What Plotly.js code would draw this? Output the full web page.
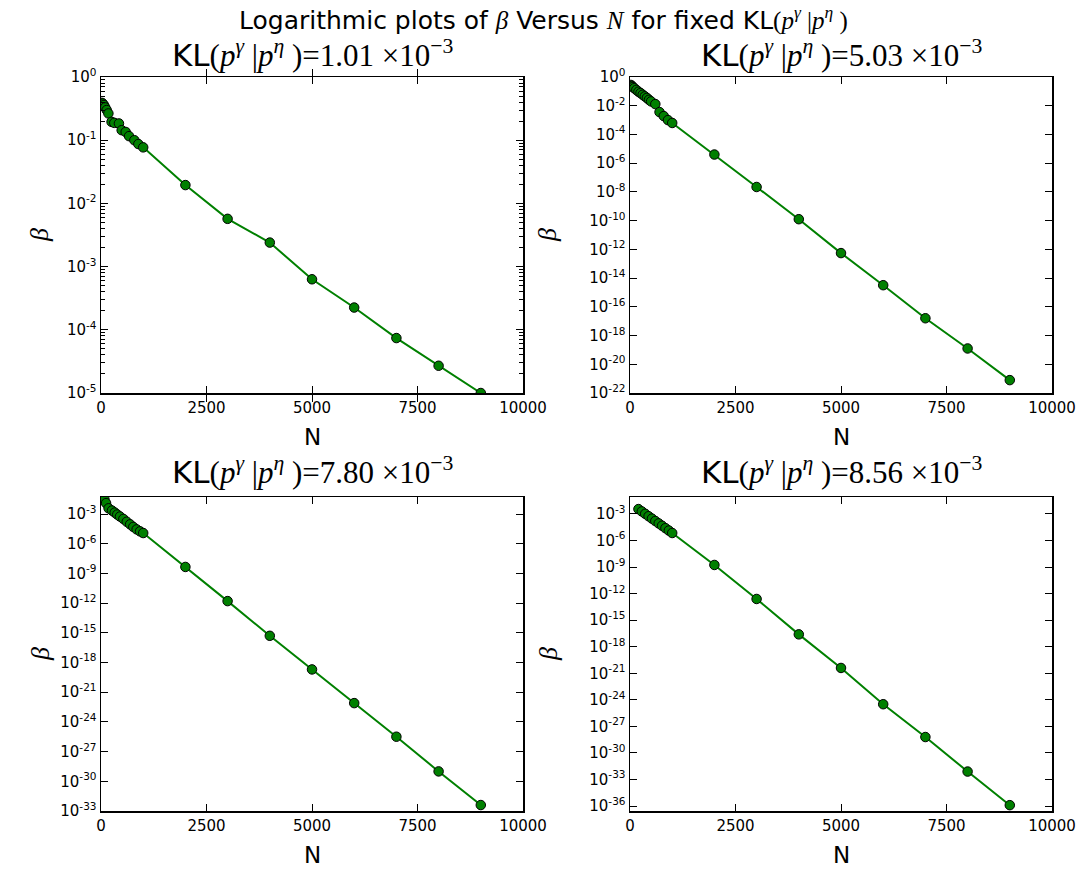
<!DOCTYPE html>
<html>
<head>
<meta charset="utf-8">
<script src="https://cdn.plot.ly/plotly-3.0.1.min.js"></script>
<style>html,body{margin:0;padding:0;background:#fff;}#chart{width:1086px;height:873px;}</style>
</head>
<body>
<div id="chart"></div>
<script>
// ---- data ----
const N1 = [20, 40, 70, 100, 135, 175, 250, 315, 425, 490, 585, 665, 790, 885, 1000, 2000, 3000, 4000, 5000, 6000, 7000, 8000, 9000];
const beta1 = [0.39, 0.38, 0.36, 0.33, 0.30, 0.265, 0.195, 0.188, 0.184, 0.144, 0.135, 0.116, 0.10, 0.087, 0.077, 0.0195, 0.0057, 0.0024, 6.3e-4, 2.25e-4, 7.4e-5, 2.7e-5, 1.0e-5];

const N2 = [20, 40, 70, 100, 150, 200, 250, 300, 350, 400, 450, 500, 600, 700, 800, 900, 1000, 2000, 3000, 4000, 5000, 6000, 7000, 8000, 9000];
const beta2 = [0.28, 0.24, 0.2, 0.166, 0.126, 0.095, 0.076, 0.058, 0.045, 0.035, 0.026, 0.02, 0.013, 3.6e-3, 1.9e-3, 1.0e-3, 6.3e-4, 4.0e-6, 2.2e-8, 1.26e-10, 5.5e-13, 3.2e-15, 1.6e-17, 1.26e-19, 7.9e-22];

const N3 = [40, 80, 120, 180, 260, 325, 385, 450, 530, 610, 690, 765, 845, 925, 1000, 2000, 3000, 4000, 5000, 6000, 7000, 8000, 9000];
const beta3 = [0.063, 0.0316, 0.0126, 3.8e-3, 2.24e-3, 1.41e-3, 8.9e-4, 5.6e-4, 3.2e-4, 1.66e-4, 9.1e-5, 5.0e-5, 2.8e-5, 1.78e-5, 1.2e-5, 4.5e-9, 1.6e-12, 5e-16, 2e-19, 7.9e-23, 3.2e-26, 1e-29, 4e-33];

const N4 = [200, 280, 360, 440, 520, 600, 680, 760, 840, 920, 1000, 2000, 3000, 4000, 5000, 6000, 7000, 8000, 9000];
const beta4 = [3.6e-3, 1.95e-3, 1.05e-3, 5.6e-4, 3.0e-4, 1.62e-4, 8.7e-5, 4.7e-5, 2.5e-5, 1.35e-5, 7.1e-6, 1.74e-9, 2.5e-13, 2.5e-17, 4e-21, 3.2e-25, 6.3e-29, 7.9e-33, 1.26e-36];

const klValues = ["1.01", "5.03", "7.80", "8.56"];
const xTicks = [0, 2500, 5000, 7500, 10000];
const yExp1 = [0, -1, -2, -3, -4, -5];
const yExp2 = [0, -2, -4, -6, -8, -10, -12, -14, -16, -18, -20, -22];
const yExp3 = [-3, -6, -9, -12, -15, -18, -21, -24, -27, -30, -33];
const yExp4 = [-3, -6, -9, -12, -15, -18, -21, -24, -27, -30, -33, -36];
const minorMult = [2, 3, 4, 5, 6, 7, 8, 9];

// ---- styling ----
const serif = "Liberation Serif, DejaVu Serif, serif";
const sans = "DejaVu Sans, sans-serif";
const green = "#008000";

const series = [[N1, beta1], [N2, beta2], [N3, beta3], [N4, beta4]];
const traces = series.map((s, i) => ({
  x: s[0], y: s[1],
  type: "scatter", mode: "lines+markers",
  xaxis: i === 0 ? "x" : "x" + (i + 1),
  yaxis: i === 0 ? "y" : "y" + (i + 1),
  line: {color: green, width: 2},
  marker: {color: green, size: 9.5, line: {color: "#000", width: 1}},
  cliponaxis: true,
  showlegend: false
}));
// invisible trace to carry the minor-tick overlay axis of the first panel
traces.push({x: [N1[0]], y: [beta1[0]], type: "scatter", mode: "markers", xaxis: "x", yaxis: "y5",
  marker: {opacity: 0}, hoverinfo: "skip", showlegend: false});

function xa(domain, anchor) {
  return {
    domain: domain, anchor: anchor, range: [0, 10000],
    tickvals: xTicks, ticktext: xTicks.map(String),
    ticks: "inside", ticklen: 7, tickwidth: 1, tickcolor: "#000",
    showline: true, linecolor: "#000", linewidth: 1.5, mirror: "allticks",
    showgrid: false, zeroline: false,
    tickfont: {family: sans, size: 15, color: "#000"}
  };
}
function ya(domain, anchor, range, exps) {
  return {
    domain: domain, anchor: anchor, type: "log", range: range,
    tickvals: exps.map(e => Math.pow(10, e)),
    ticktext: exps.map(e => "10<sup>" + e + "</sup>"),
    ticks: "inside", ticklen: 7, tickwidth: 1, tickcolor: "#000",
    showline: true, linecolor: "#000", linewidth: 1.5, mirror: "allticks",
    showgrid: false, zeroline: false,
    tickfont: {family: sans, size: 15, color: "#000"}
  };
}

const xL = [101/1086, 523/1086], xR = [630/1086, 1052/1086];
const yT = [1 - 393/873, 1 - 77/873], yB = [1 - 811/873, 1 - 497/873];

const minorVals = [];
yExp1.forEach(e => minorMult.forEach(m => { const v = m * Math.pow(10, e); if (v < 1) minorVals.push(v); }));

function klTitle(v) {
  return "KL<span style=\"font-family:" + serif + "\">(<i>p</i><sup><i>γ</i></sup> |<i>p</i><sup><i>η</i></sup> )=" + v + " ×10<sup>−3</sup></span>";
}

const annotations = [];
annotations.push({
  text: "Logarithmic plots of <span style=\"font-family:" + serif + "\"><i>β</i></span> Versus <span style=\"font-family:" + serif + "\"><i>N</i></span> for fixed KL<span style=\"font-family:" + serif + "\">(<i>p</i><sup><i>γ</i></sup> |<i>p</i><sup><i>η</i></sup> )</span>",
  x: 543/1086, y: 1 - 18/873, xref: "paper", yref: "paper", showarrow: false,
  xanchor: "center", yanchor: "middle", font: {family: sans, size: 25, color: "#000"}
});
const centers = [[312, 53, 437, 40, 235], [841, 53, 437, 548, 235], [312, 470, 855, 40, 654], [841, 470, 855, 548, 654]];
centers.forEach((c, i) => {
  annotations.push({text: klTitle(klValues[i]), x: c[0]/1086, y: 1 - c[1]/873, xref: "paper", yref: "paper",
    showarrow: false, xanchor: "center", yanchor: "middle", font: {family: sans, size: 31, color: "#000"}});
  annotations.push({text: "N", x: c[0]/1086, y: 1 - c[2]/873, xref: "paper", yref: "paper",
    showarrow: false, xanchor: "center", yanchor: "middle", font: {family: sans, size: 23, color: "#000"}});
  annotations.push({text: "<i>β</i>", x: c[3]/1086, y: 1 - c[4]/873, xref: "paper", yref: "paper", textangle: -90,
    showarrow: false, xanchor: "center", yanchor: "middle", font: {family: serif, size: 26, color: "#000"}});
});

const layout = {
  width: 1086, height: 873,
  margin: {l: 0, r: 0, t: 0, b: 0},
  paper_bgcolor: "#fff", plot_bgcolor: "#fff",
  showlegend: false,
  xaxis: xa(xL, "y"), yaxis: ya(yT, "x", [-5, 0], yExp1),
  xaxis2: xa(xR, "y2"), yaxis2: ya(yT, "x2", [-22, 0], yExp2),
  xaxis3: xa(xL, "y3"), yaxis3: ya(yB, "x3", [-33, -1.28], yExp3),
  xaxis4: xa(xR, "y4"), yaxis4: ya(yB, "x4", [-36.56, -1.08], yExp4),
  yaxis5: {
    overlaying: "y", anchor: "x", type: "log", range: [-5, 0],
    tickvals: minorVals, ticktext: minorVals.map(() => ""),
    ticks: "inside", ticklen: 4, tickwidth: 1, tickcolor: "#000",
    showline: false, mirror: "allticks", showgrid: false, zeroline: false, showticklabels: false
  },
  annotations: annotations
};

Plotly.newPlot("chart", traces, layout, {staticPlot: true});
</script>
</body>
</html>
